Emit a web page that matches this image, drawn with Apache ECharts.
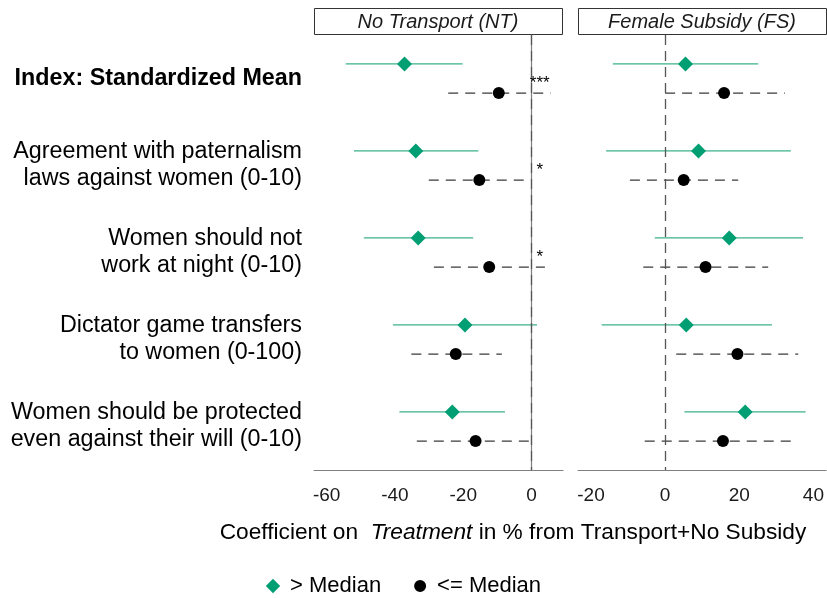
<!DOCTYPE html>
<html>
<head>
<meta charset="utf-8">
<script src="https://cdn.jsdelivr.net/npm/echarts@6/dist/echarts.min.js"></script>
<style>
  html, body { margin: 0; padding: 0; background: #fff; }
  #chart { width: 827px; height: 598px; }
</style>
</head>
<body>
<div id="chart"></div>
<script>
// outcome rows, top to bottom
const rows = [
  'Index: Standardized Mean',
  'Agreement with paternalism\nlaws against women (0-10)',
  'Women should not\nwork at night (0-10)',
  'Dictator game transfers\nto women (0-100)',
  'Women should be protected\neven against their will (0-10)'
]

// No Transport (NT) panel
const ntAbove = [-37.2, -33.9, -33.2, -19.5, -23.2]
const ntAboveLo = [-54.4, -52.0, -49.1, -40.6, -38.7]
const ntAboveHi = [-20.2, -15.6, -17.1, 1.6, -7.8]
const ntBelow = [-9.6, -15.3, -12.4, -22.2, -16.4]
const ntBelowLo = [-24.4, -30.1, -28.6, -35.2, -33.6]
const ntBelowHi = [5.6, -1.1, 3.9, -8.7, -0.8]
const ntStars = ['***', '*', '*', '', '']

// Female Subsidy (FS) panel
const fsAbove = [5.5, 9.0, 17.3, 5.7, 21.6]
const fsAboveLo = [-14.1, -15.9, -2.8, -17.1, 5.2]
const fsAboveHi = [25.1, 33.9, 37.2, 28.8, 37.9]
const fsBelow = [15.9, 5.0, 10.9, 19.5, 15.6]
const fsBelowLo = [0.0, -9.5, -5.9, 3.0, -5.5]
const fsBelowHi = [32.3, 19.7, 27.8, 35.9, 35.2]

const ntTicks = [-60, -40, -20, 0]
const fsTicks = [-20, 0, 20, 40]

const FONT = 'Liberation Sans, Arial, sans-serif'
const GREEN = '#009E73'
const GREEN_LINE = '#3bb08c'
const DODGE = 0.167

// legend icons drawn inside a 24x15 box so they are not stretched
const ICON_DIAMOND = 'path://M0,7.5L0.01,7.5M24,7.5L23.99,7.5M12,0.3L19.2,7.5L12,14.7L4.8,7.5Z'
const ICON_DOT = 'path://M0,7.5L0.01,7.5M24,7.5L23.99,7.5M18,7.5A6,6 0 1 1 6,7.5A6,6 0 1 1 18,7.5Z'

// y position of each row (1..5), shifted up for > median, down for <= median
const pts = (vals, shift) => vals.map((v, i) => [v, i + 1 + shift])
const bars = (lo, hi, shift) => lo.map((v, i) => [v, hi[i], i + 1 + shift])

function errorBar (color, dash) {
  return function (params, api) {
    const a = api.coord([api.value(0), api.value(2)])
    const b = api.coord([api.value(1), api.value(2)])
    return {
      type: 'line',
      shape: { x1: a[0], y1: a[1], x2: b[0], y2: b[1] },
      style: { stroke: color, lineWidth: 1.3, lineDash: dash }
    }
  }
}

function panelSeries (idx, above, aboveLo, aboveHi, below, belowLo, belowHi) {
  return [
    {
      type: 'custom',
      xAxisIndex: idx,
      yAxisIndex: idx === 0 ? 1 : 2,
      renderItem: errorBar('#3a3a3a', [10, 7]),
      encode: { x: [0, 1], y: 2 },
      data: bars(belowLo, belowHi, DODGE),
      z: 2,
      silent: true,
      markLine: {
        silent: true,
        symbol: 'none',
        label: { show: false },
        lineStyle: { color: '#555', width: 1.3, type: [10, 6] },
        data: [{ xAxis: 0 }]
      }
    },
    {
      type: 'custom',
      xAxisIndex: idx,
      yAxisIndex: idx === 0 ? 1 : 2,
      renderItem: errorBar(GREEN_LINE, null),
      encode: { x: [0, 1], y: 2 },
      data: bars(aboveLo, aboveHi, -DODGE),
      z: 2,
      silent: true
    },
    {
      name: '> Median',
      type: 'scatter',
      xAxisIndex: idx,
      yAxisIndex: idx === 0 ? 1 : 2,
      symbol: 'diamond',
      symbolSize: 15,
      itemStyle: { color: GREEN, opacity: 1 },
      data: pts(above, -DODGE),
      z: 3
    },
    {
      name: '<= Median',
      type: 'scatter',
      xAxisIndex: idx,
      yAxisIndex: idx === 0 ? 1 : 2,
      symbol: 'circle',
      symbolSize: 12,
      itemStyle: { color: '#000', opacity: 1 },
      data: pts(below, DODGE),
      z: 3
    }
  ]
}

const chart = echarts.init(document.getElementById('chart'))

const option = {
  animation: false,
  textStyle: { fontFamily: FONT },
  grid: [
    { left: 314, right: 264, top: 35, bottom: 128 },
    { left: 578, right: 0, top: 35, bottom: 128 }
  ],
  xAxis: [
    {
      type: 'value',
      gridIndex: 0,
      min: -63.7,
      max: 9.2,
      splitLine: { show: false },
      axisTick: { show: false },
      axisLine: { show: true, onZero: false, lineStyle: { color: '#7f7f7f', width: 1.2 } },
      axisLabel: { customValues: ntTicks, fontSize: 19, color: '#1a1a1a', margin: 16 }
    },
    {
      type: 'value',
      gridIndex: 1,
      min: -23.5,
      max: 43.4,
      splitLine: { show: false },
      axisTick: { show: false },
      axisLine: { show: true, onZero: false, lineStyle: { color: '#7f7f7f', width: 1.2 } },
      axisLabel: { customValues: fsTicks, fontSize: 19, color: '#1a1a1a', margin: 16 }
    }
  ],
  yAxis: [
    {
      type: 'category',
      gridIndex: 0,
      inverse: true,
      data: rows,
      axisTick: { show: false },
      axisLine: { show: true, lineStyle: { color: '#7f7f7f', width: 1.2 } },
      axisLabel: {
        interval: 0,
        fontSize: 23.3,
        lineHeight: 27,
        color: '#000',
        margin: 12,
        align: 'right',
        formatter: (v, i) => i === 0 ? '{b|' + v + '}' : v,
        rich: { b: { fontWeight: 'bold', fontSize: 23.3, color: '#000', fontFamily: FONT } }
      }
    },
    {
      type: 'value',
      gridIndex: 0,
      inverse: true,
      min: 0.5,
      max: 5.5,
      show: false
    },
    {
      type: 'value',
      gridIndex: 1,
      inverse: true,
      min: 0.5,
      max: 5.5,
      show: false
    }
  ],
  legend: {
    left: 256,
    top: 570,
    itemWidth: 24,
    itemHeight: 15,
    itemGap: 27,
    selectedMode: false,
    textStyle: { fontSize: 22, color: '#000' },
    data: [
      { name: '> Median', icon: ICON_DIAMOND, itemStyle: { color: GREEN } },
      { name: '<= Median', icon: ICON_DOT, itemStyle: { color: '#000' } }
    ]
  },
  graphic: [
    {
      type: 'rect',
      left: 314,
      top: 8,
      shape: { width: 248, height: 26 },
      style: { fill: '#fff', stroke: '#333', lineWidth: 1 }
    },
    {
      type: 'rect',
      left: 578,
      top: 8,
      shape: { width: 248, height: 26 },
      style: { fill: '#fff', stroke: '#333', lineWidth: 1 }
    },
    {
      type: 'text',
      x: 438,
      y: 22,
      style: {
        text: 'No Transport (NT)',
        font: 'italic 20px ' + FONT,
        fill: '#1a1a1a',
        textAlign: 'center',
        textVerticalAlign: 'middle'
      }
    },
    {
      type: 'text',
      x: 702,
      y: 22,
      style: {
        text: 'Female Subsidy (FS)',
        font: 'italic 20px ' + FONT,
        fill: '#1a1a1a',
        textAlign: 'center',
        textVerticalAlign: 'middle'
      }
    },
    {
      type: 'text',
      x: 513,
      y: 533,
      style: {
        text: '{n|Coefficient on  }{i|Treatment}{n| in % from Transport+No Subsidy}',
        textAlign: 'center',
        textVerticalAlign: 'middle',
        rich: {
          n: { fontSize: 22.7, fontFamily: FONT, color: '#000' },
          i: { fontSize: 22.7, fontFamily: FONT, fontStyle: 'italic', color: '#000' }
        }
      }
    }
  ],
  series: [
    ...panelSeries(0, ntAbove, ntAboveLo, ntAboveHi, ntBelow, ntBelowLo, ntBelowHi),
    ...panelSeries(1, fsAbove, fsAboveLo, fsAboveHi, fsBelow, fsBelowLo, fsBelowHi),
    {
      // significance stars next to the zero line
      type: 'custom',
      xAxisIndex: 0,
      yAxisIndex: 1,
      silent: true,
      data: ntStars.map((s, i) => [2.4, i + 1, s]),
      renderItem: function (params, api) {
        const p = api.coord([api.value(0), api.value(1)])
        return {
          type: 'text',
          x: p[0],
          y: p[1] + 5,
          style: {
            text: ntStars[params.dataIndex],
            font: '17px ' + FONT,
            fill: '#000',
            textAlign: 'center',
            textVerticalAlign: 'middle'
          }
        }
      },
      z: 4
    }
  ]
}

chart.setOption(option)
window.addEventListener('resize', () => chart.resize())
</script>
</body>
</html>
